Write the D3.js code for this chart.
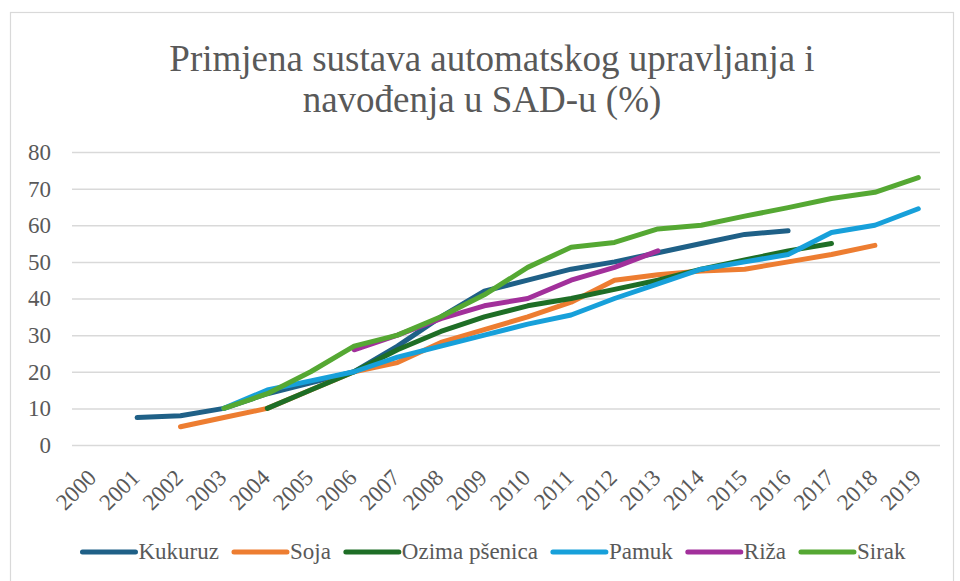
<!DOCTYPE html>
<html>
<head>
<meta charset="utf-8">
<script src="https://cdn.jsdelivr.net/npm/d3@7"></script>
<style>
    body { margin: 0; background: #fff; }
    svg text { font-family: 'Liberation Serif', 'Times New Roman', Tinos, 'DejaVu Serif', serif; }
</style>
</head>
<body>
<svg width="960" height="581"></svg>
<script>
// data
var years = ['2000', '2001', '2002', '2003', '2004', '2005', '2006', '2007', '2008', '2009',
    '2010', '2011', '2012', '2013', '2014', '2015', '2016', '2017', '2018', '2019']
var yTicks = [0, 10, 20, 30, 40, 50, 60, 70, 80]
var kukuruz = [null, 7.5, 8, 10, 14, 17, 20, 27, 35, 42, 45, 48, 50, 52.5, 55, 57.5, 58.5, null, null, null]
var soja = [null, null, 5, 7.5, 10, 15, 20, 22.5, 28, 31.5, 35, 39, 45, 46.5, 47.5, 48, 50, 52, 54.5, null]
var ozima = [null, null, null, null, 10, 15, 20, 26, 31, 35, 38, 40, 42.5, 45, 48, 50.5, 53, 55, null, null]
var pamuk = [null, null, null, 10, 15, 17.5, 20, 24, 27, 30, 33, 35.5, 40, 44, 48, 50, 52, 58, 60, 64.5]
var riza = [null, null, null, null, null, null, 26, 30, 34.5, 38, 40, 45, 48.5, 53, null, null, null, null, null, null]
var sirak = [null, null, null, 10, 14, 20, 27, 30, 35, 41, 48.5, 54, 55.3, 59, 60, 62.5, 64.8, 67.3, 69, 73]
var seriesNames = ['Kukuruz', 'Soja', 'Ozima pšenica', 'Pamuk', 'Riža', 'Sirak']
var seriesColors = ['#1f6087', '#ed7d31', '#1e6e26', '#17a0da', '#a2309b', '#55a833']

var series = [kukuruz, soja, ozima, pamuk, riza, sirak].map(function(vals, i) {
    return {
        name: seriesNames[i],
        color: seriesColors[i],
        values: vals.map(function(v, j) { return { year: years[j], value: v } })
    }
})

var svg = d3.select('svg')
var textColor = '#595959'

var xScale = d3.scaleBand()
    .domain(years)
    .range([72, 940])
var yScale = d3.scaleLinear()
    .domain([0, 80])
    .range([445, 152])

//chart frame
svg.append('rect')
    .attr('x', 10.5).attr('y', 12.5)
    .attr('width', 943).attr('height', 600)
    .style('fill', 'none')
    .style('stroke', '#d9d9d9')
    .style('stroke-width', 1.2)

//Title Text
svg.append('text')
    .attr('x', 492)
    .attr('y', 71)
    .attr('text-anchor', 'middle')
    .style('font-size', '37px')
    .style('fill', textColor)
    .text('Primjena sustava automatskog upravljanja i')
svg.append('text')
    .attr('x', 482)
    .attr('y', 112)
    .attr('text-anchor', 'middle')
    .style('font-size', '37px')
    .style('fill', textColor)
    .text('navođenja u SAD-u (%)')

//gridlines + y labels
var yAxis = svg.append('g')
    .attr('transform', 'translate(72,0)')
    .call(d3.axisLeft(yScale).tickValues(yTicks).tickSize(-868).tickPadding(21).tickFormat(d3.format('d')))
yAxis.attr('font-family', null)
yAxis.select('.domain').remove()
yAxis.selectAll('line')
    .style('stroke', '#d9d9d9')
    .style('stroke-width', 1.5)
yAxis.selectAll('text')
    .style('font-size', '23px')
    .style('fill', textColor)

//x labels, rotated
var xAxis = svg.append('g')
xAxis.selectAll('text')
    .data(years)
    .enter()
    .append('text')
    .attr('text-anchor', 'end')
    .attr('transform', function(d) {
        return 'translate(' + (xScale(d) + xScale.bandwidth() / 2 + 4) + ',479)rotate(-45)'
    })
    .style('font-size', '23px')
    .style('fill', textColor)
    .text(d => d)

//series lines
var line = d3.line()
    .defined(d => d.value != null)
    .x(function(d) {
        return xScale(d.year) + xScale.bandwidth() / 2
    })
    .y(function(d) {
        return yScale(d.value)
    })

svg.append('g').selectAll('path')
    .data(series)
    .enter()
    .append('path')
    .attr('d', d => line(d.values))
    .style('fill', 'none')
    .style('stroke', d => d.color)
    .style('stroke-width', 5)
    .style('stroke-linecap', 'round')
    .style('stroke-linejoin', 'round')

//legend
var legend = svg.append('g')
var lx = 0
series.forEach(function(s) {
    var item = legend.append('g').attr('transform', 'translate(' + lx + ',0)')
    item.append('line')
        .attr('x1', 2).attr('x2', 55)
        .attr('y1', 0).attr('y2', 0)
        .style('stroke', s.color)
        .style('stroke-width', 5)
        .style('stroke-linecap', 'round')
    var t = item.append('text')
        .attr('x', 58)
        .attr('y', 7)
        .style('font-size', '23px')
        .style('fill', textColor)
        .text(s.name)
    lx += 58 + t.node().getComputedTextLength() + 13
})
lx -= 13
legend.attr('transform', 'translate(' + (493 - lx / 2) + ',552)')
</script>
</body>
</html>
